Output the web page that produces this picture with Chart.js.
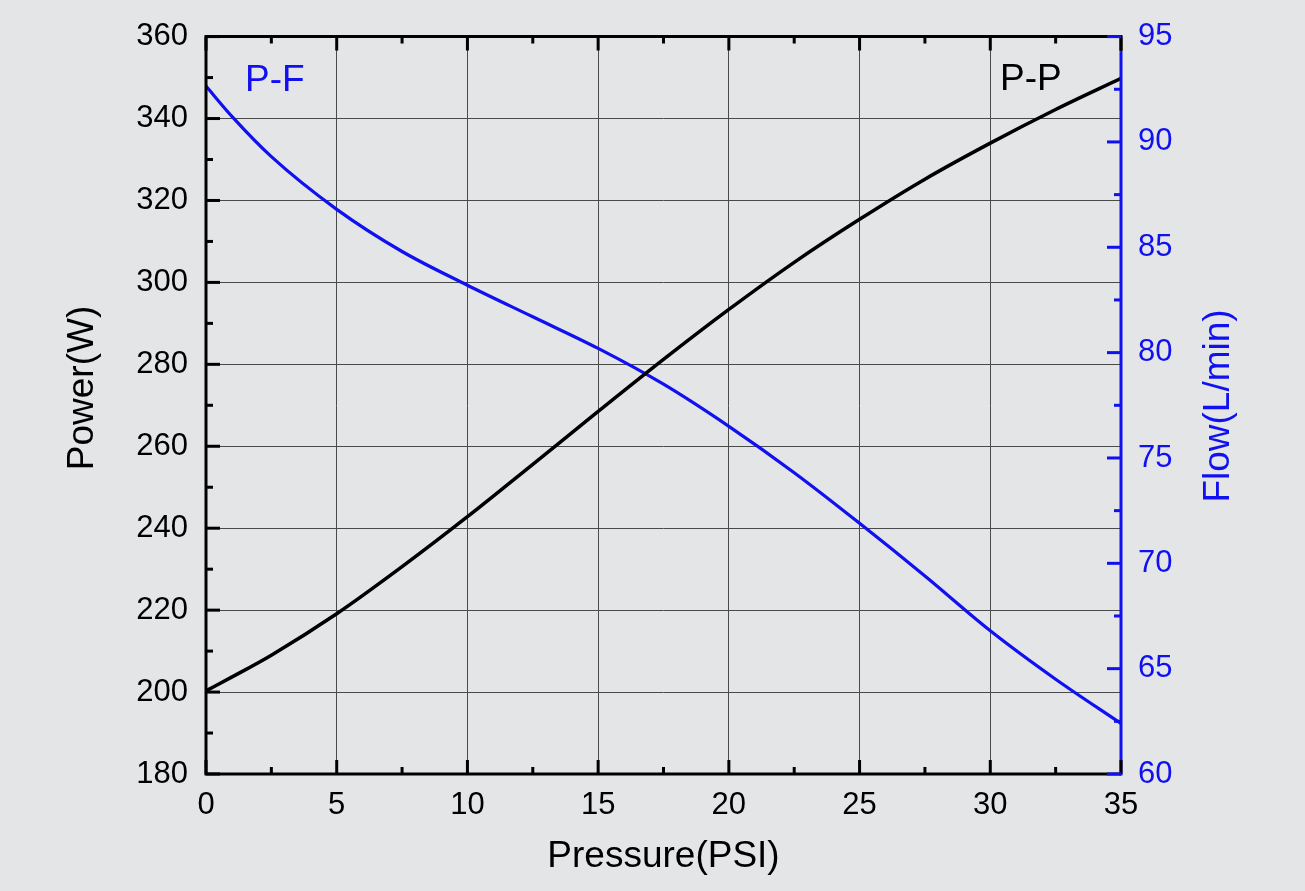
<!DOCTYPE html>
<html>
<head>
<meta charset="utf-8">
<script src="https://cdn.jsdelivr.net/npm/chart.js@4/dist/chart.umd.min.js"></script>
<style>
  html, body { margin: 0; padding: 0; background: #e4e5e7; }
  #wrap { width: 1305px; height: 891px; position: relative; }
</style>
</head>
<body>
<div id="wrap"><canvas id="c" width="1305" height="891"></canvas></div>
<script>
// ---- data ----
const pressure = [0, 1, 2.5, 5, 7.5, 10, 12.5, 15, 17.5, 20, 22.5, 25, 27.5, 30, 32.5, 35];
const powerW  = [200.3, 203.7, 209.0, 219.1, 230.6, 242.8, 255.6, 268.5, 281.2, 293.4, 304.9, 315.4, 325.2, 334.0, 342.2, 349.8];
const flowLpm = [92.65, 91.2, 89.3, 86.8, 84.8, 83.2, 81.7, 80.2, 78.5, 76.5, 74.3, 71.9, 69.4, 66.8, 64.5, 62.4];
const xTicks = [0, 5, 10, 15, 20, 25, 30, 35];
const powerTicks = [180, 200, 220, 240, 260, 280, 300, 320, 340, 360];
const flowTicks = [60, 65, 70, 75, 80, 85, 90, 95];
const seriesLabels = ['P-P', 'P-F'];
const axisTitles = { x: 'Pressure(PSI)', y: 'Power(W)', y1: 'Flow(L/min)' };

const BLUE = '#1010f0';
const FONT = "'Liberation Sans', Arial, sans-serif";

const framePlugin = {
  id: 'frame',
  afterDraw(chart) {
    const ctx = chart.ctx;
    const a = chart.chartArea;
    const sx = chart.scales.x, sy = chart.scales.y, sy1 = chart.scales.y1;
    ctx.save();
    ctx.lineCap = 'butt';
    // frame
    ctx.lineWidth = 3;
    ctx.strokeStyle = '#000';
    ctx.beginPath();
    ctx.moveTo(a.left, a.bottom + 1.5); ctx.lineTo(a.left, a.top - 1.5);
    ctx.moveTo(a.left - 1.5, a.top); ctx.lineTo(a.right + 1.5, a.top);
    ctx.moveTo(a.right, a.top); ctx.lineTo(a.right, a.top + 15);
    ctx.moveTo(a.left - 1.5, a.bottom); ctx.lineTo(a.right, a.bottom);
    ctx.stroke();
    ctx.strokeStyle = BLUE;
    ctx.beginPath();
    ctx.moveTo(a.right, a.top + 15); ctx.lineTo(a.right, a.bottom + 1.5);
    ctx.stroke();
    // x ticks (bottom & top), inward
    ctx.strokeStyle = '#000';
    ctx.lineWidth = 3;
    for (let v = 0; v <= 35; v += 2.5) {
      const px = sx.getPixelForValue(v);
      const len = (v % 5 === 0) ? 14 : 7;
      ctx.beginPath();
      ctx.moveTo(px, a.bottom); ctx.lineTo(px, a.bottom - len);
      ctx.moveTo(px, a.top); ctx.lineTo(px, a.top + len);
      ctx.stroke();
    }
    // left y ticks
    for (let v = 180; v <= 360; v += 10) {
      const py = sy.getPixelForValue(v);
      const len = (v % 20 === 0) ? 14 : 7;
      ctx.beginPath();
      ctx.moveTo(a.left, py); ctx.lineTo(a.left + len, py);
      ctx.stroke();
    }
    // right y ticks
    ctx.strokeStyle = BLUE;
    for (let v = 60; v <= 95; v += 2.5) {
      const py = sy1.getPixelForValue(v);
      const len = (v % 5 === 0) ? 14 : 7;
      ctx.beginPath();
      ctx.moveTo(a.right, py); ctx.lineTo(a.right - len, py);
      ctx.stroke();
    }
    // series labels
    ctx.font = '37px ' + FONT;
    ctx.textBaseline = 'alphabetic';
    ctx.textAlign = 'left';
    ctx.fillStyle = BLUE;
    ctx.fillText(seriesLabels[1], 245, 91);
    ctx.fillStyle = '#000';
    ctx.fillText(seriesLabels[0], 1000, 90);
    // vertical axis titles (both read bottom-to-top)
    ctx.font = '37px ' + FONT;
    ctx.textAlign = 'center';
    ctx.textBaseline = 'middle';
    ctx.fillStyle = '#000';
    ctx.save();
    ctx.translate(83, 388);
    ctx.rotate(-Math.PI / 2);
    ctx.fillText(axisTitles.y, 0, 0);
    ctx.restore();
    ctx.fillStyle = BLUE;
    ctx.save();
    ctx.translate(1219, 406);
    ctx.rotate(-Math.PI / 2);
    ctx.fillText(axisTitles.y1, 0, 0);
    ctx.restore();
    ctx.restore();
  }
};

const bgPlugin = {
  id: 'bg',
  beforeDraw(chart) {
    const ctx = chart.ctx;
    ctx.save();
    ctx.fillStyle = '#e4e5e7';
    ctx.fillRect(0, 0, chart.width, chart.height);
    ctx.restore();
  }
};

const toXY = (xs, ys) => xs.map((x, i) => ({ x, y: ys[i] }));

new Chart(document.getElementById('c'), {
  type: 'line',
  data: {
    datasets: [
      {
        label: seriesLabels[0],
        data: toXY(pressure, powerW),
        yAxisID: 'y',
        borderColor: '#000',
        borderWidth: 3.5,
        pointRadius: 0,
        cubicInterpolationMode: 'monotone',
        fill: false
      },
      {
        label: seriesLabels[1],
        data: toXY(pressure, flowLpm),
        yAxisID: 'y1',
        borderColor: BLUE,
        borderWidth: 3.2,
        pointRadius: 0,
        cubicInterpolationMode: 'monotone',
        fill: false
      }
    ]
  },
  options: {
    responsive: false,
    animation: false,
    devicePixelRatio: 1,
    layout: { padding: { top: 35, left: 0, right: 0, bottom: 0 } },
    plugins: { legend: { display: false }, tooltip: { enabled: false } },
    scales: {
      x: {
        type: 'linear',
        min: 0, max: 35,
        afterBuildTicks(s) { s.ticks = xTicks.map(v => ({ value: v })); },
        afterFit(s) { s.height = 117; },
        grid: { color: '#4a4a4a', lineWidth: 1, drawTicks: false },
        border: { display: false },
        ticks: { color: '#000', font: { family: FONT, size: 31 }, padding: 13, maxRotation: 0 },
        title: { display: true, text: axisTitles.x, color: '#000', font: { family: FONT, size: 37 }, padding: 12 }
      },
      y: {
        type: 'linear',
        position: 'left',
        min: 180, max: 360,
        afterBuildTicks(s) { s.ticks = powerTicks.map(v => ({ value: v })); },
        afterFit(s) { s.width = 206; },
        grid: { color: '#4a4a4a', lineWidth: 1, drawTicks: false },
        border: { display: false },
        ticks: { color: '#000', font: { family: FONT, size: 31 }, padding: 18 },
        title: { display: false }
      },
      y1: {
        type: 'linear',
        position: 'right',
        min: 60, max: 95,
        afterBuildTicks(s) { s.ticks = flowTicks.map(v => ({ value: v })); },
        afterFit(s) { s.width = 184; },
        grid: { display: false, drawTicks: false },
        border: { display: false },
        ticks: { color: BLUE, font: { family: FONT, size: 31 }, padding: 17 },
        title: { display: false }
      }
    }
  },
  plugins: [bgPlugin, framePlugin]
});
</script>
</body>
</html>
